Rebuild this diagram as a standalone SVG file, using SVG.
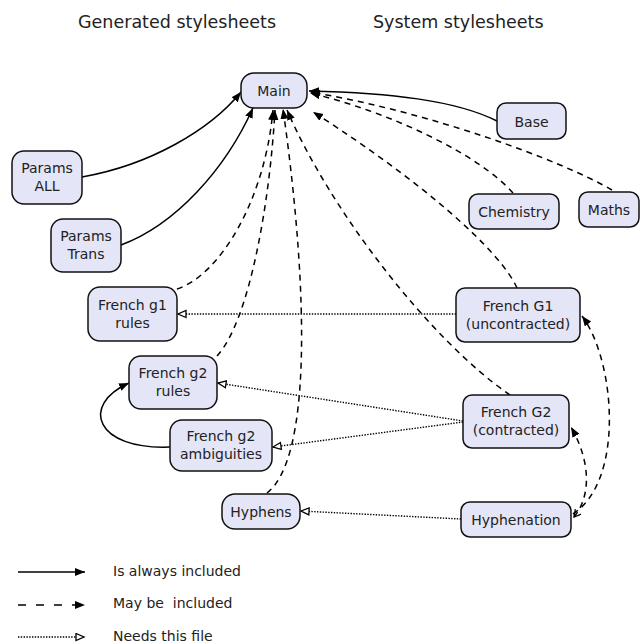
<svg xmlns="http://www.w3.org/2000/svg" width="643" height="644" viewBox="0 0 643 644">
<style>
  text { font-family: "DejaVu Sans", "Liberation Sans", sans-serif; font-size: 14px; fill: #222; }
  .title { font-size: 17.5px; }
  .node rect { fill: #e5e5f8; stroke: #111; stroke-width: 1.5; }
  .node text { text-anchor: middle; }
  .solid { fill: none; stroke: #000; stroke-width: 1.5; marker-end: url(#filled); }
  .dashed { fill: none; stroke: #000; stroke-width: 1.5; stroke-dasharray: 6 5; marker-end: url(#filled); }
  .dotted { fill: none; stroke: #000; stroke-width: 1.4; stroke-dasharray: 1.4 1.4; marker-end: url(#hollow); }
</style>
<defs>
  <marker id="filled" markerUnits="userSpaceOnUse" markerWidth="12" markerHeight="10" refX="10" refY="4" orient="auto">
    <path d="M0,0 L10,4 L0,8 z" fill="#000" stroke="none"/>
  </marker>
  <marker id="hollow" markerUnits="userSpaceOnUse" markerWidth="12" markerHeight="10" refX="9" refY="4.5" orient="auto">
    <path d="M1,1 L9,4.5 L1,8 z" fill="#fff" stroke="#000" stroke-width="1.3" stroke-dasharray="none"/>
  </marker>
  <marker id="vee" markerUnits="userSpaceOnUse" markerWidth="10" markerHeight="10" refX="7" refY="4" orient="auto-start-reverse">
    <path d="M0,0 L7,4 L0,8" fill="none" stroke="#000" stroke-width="1.3" stroke-dasharray="none"/>
  </marker>
</defs>

<text class="title" x="78" y="28">Generated stylesheets</text>
<text class="title" x="373" y="28">System stylesheets</text>

<g id="connectors">
  <path class="solid" d="M82,177 C150,165 210,130 241,92"/>
  <path class="solid" d="M121,245 C175,225 225,170 253,108"/>
  <path class="solid" d="M497,121 C455,100 390,93 309,91"/>
  <path class="solid" d="M170,447 C95,450 80,405 129,383"/>

  <path class="dashed" d="M513,193 C480,155 390,112 310,93"/>
  <path class="dashed" d="M612,190 C560,160 430,112 310,92"/>
  <path class="dashed" d="M517,288 C500,250 420,180 313,112"/>
  <path class="dashed" d="M510,395 C430,340 330,210 287,110"/>
  <path class="dashed" d="M177,289 C220,275 265,200 273,110"/>
  <path class="dashed" d="M217,356 C250,320 270,200 275,110"/>
  <path class="dashed" d="M267,493 C310,460 310,300 283,109"/>
  <path class="dashed" d="M573,514 C625,480 615,360 582,316"/>
  <path class="dashed" d="M574,517 C592,495 590,460 571,427" marker-start="url(#vee)"/>

  <path class="dotted" d="M456,314 L178,314"/>
  <path class="dotted" d="M463,421 L218,383"/>
  <path class="dotted" d="M463,422 L273,447"/>
  <path class="dotted" d="M461,519 L301,511"/>
</g>

<g id="main" class="node"><rect x="241" y="73" width="66" height="35" rx="13"/><text x="274" y="96">Main</text></g>
<g id="params-all" class="node"><rect x="12" y="151" width="70" height="53" rx="12"/><text x="47" y="173">Params</text><text x="47" y="191">ALL</text></g>
<g id="params-trans" class="node"><rect x="51" y="219" width="70" height="53" rx="12"/><text x="86" y="241">Params</text><text x="86" y="259">Trans</text></g>
<g id="base" class="node"><rect x="497" y="103" width="69" height="36" rx="9"/><text x="531.5" y="126.5">Base</text></g>
<g id="chemistry" class="node"><rect x="469" y="194" width="90" height="35" rx="9"/><text x="514" y="217">Chemistry</text></g>
<g id="maths" class="node"><rect x="579" y="192" width="60" height="35" rx="9"/><text x="609" y="215">Maths</text></g>
<g id="french-g1-rules" class="node"><rect x="88" y="287" width="89" height="54" rx="12"/><text x="132.5" y="309.5">French g1</text><text x="132.5" y="327.5">rules</text></g>
<g id="french-g2-rules" class="node"><rect x="129" y="356" width="88" height="53" rx="12"/><text x="173" y="378">French g2</text><text x="173" y="396">rules</text></g>
<g id="french-g2-ambiguities" class="node"><rect x="170" y="420" width="102" height="51" rx="12"/><text x="221" y="441">French g2</text><text x="221" y="459">ambiguities</text></g>
<g id="hyphens" class="node"><rect x="222" y="494" width="78" height="35" rx="13"/><text x="261" y="517">Hyphens</text></g>
<g id="french-g1" class="node"><rect x="456" y="288" width="124" height="54" rx="9"/><text x="518" y="310.5">French G1</text><text x="518" y="328.5">(uncontracted)</text></g>
<g id="french-g2" class="node"><rect x="463" y="395" width="106" height="53" rx="9"/><text x="516" y="417">French G2</text><text x="516" y="435">(contracted)</text></g>
<g id="hyphenation" class="node"><rect x="461" y="502" width="110" height="35" rx="9"/><text x="516" y="525">Hyphenation</text></g>

<g id="legend">
  <path d="M18,572 L85,572" fill="none" stroke="#000" stroke-width="1.5" marker-end="url(#filled)"/>
  <path d="M18,605 L85,605" fill="none" stroke="#000" stroke-width="1.5" stroke-dasharray="8 10" marker-end="url(#filled)"/>
  <path d="M18,637 L84,637" fill="none" stroke="#000" stroke-width="1.4" stroke-dasharray="1.4 1.4" marker-end="url(#hollow)"/>
  <text x="113" y="576">Is always included</text>
  <text x="113" y="608" xml:space="preserve">May be  included</text>
  <text x="113" y="641">Needs this file</text>
</g>
</svg>
